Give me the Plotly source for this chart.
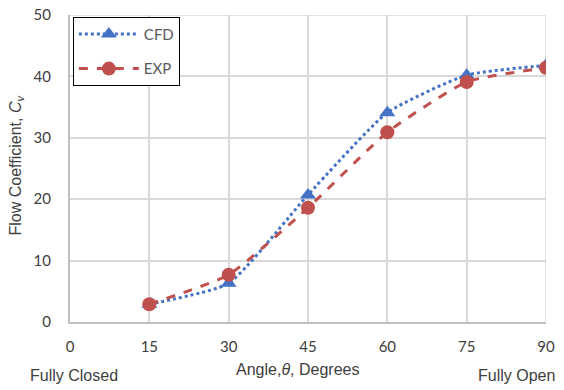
import plotly.graph_objects as go

angles = [15, 30, 45, 60, 75, 90]
cfd = [2.9, 6.3, 20.7, 34.1, 40.2, 41.8]
exp = [2.9, 7.7, 18.6, 30.9, 39.1, 41.4]
x_ticks = [0, 15, 30, 45, 60, 75, 90]
y_ticks = [0, 10, 20, 30, 40, 50]

GRAY = "#404040"
tick_font = dict(family="Lato, Liberation Sans, sans-serif", size=15, color=GRAY)
title_font = dict(family="Liberation Sans, Arial, sans-serif", size=16, color=GRAY)

fig = go.Figure()
fig.add_trace(go.Scatter(
    x=angles, y=cfd, name="CFD", mode="lines+markers", legendgroup="a",
    line=dict(color="#4472C4", width=3, dash="dot", shape="spline", smoothing=0.5),
    marker=dict(symbol="triangle-up", size=14, color="#4472C4"),
))
fig.add_trace(go.Scatter(
    x=angles, y=exp, name="EXP", mode="lines+markers", legendgroup="b",
    line=dict(color="#C0504D", width=3, dash="dash", shape="spline", smoothing=0.5),
    marker=dict(symbol="circle", size=14, color="#C0504D"),
))

axis_common = dict(showgrid=True, gridcolor="#D9D9D9", gridwidth=1.5, zeroline=False,
                   showline=True, linecolor="#BFBFBF", linewidth=2, ticks="",
                   tickfont=tick_font, automargin=False, ticklabeloverflow="allow")

fig.update_layout(
    width=556, height=382,
    margin=dict(l=62, r=18, t=7, b=68),
    paper_bgcolor="white", plot_bgcolor="white",
    showlegend=True,
    legend=dict(x=0.006, y=0.994, xanchor="left", yanchor="top",
                bgcolor="white", bordercolor="black", borderwidth=1,
                font=dict(family="Lato, Liberation Sans, sans-serif", size=15, color="#595959"),
                itemwidth=60, traceorder="grouped", tracegroupgap=12),
    xaxis=dict(range=[0, 90], tickvals=x_ticks, ticklabelstandoff=10, **axis_common),
    yaxis=dict(range=[0, 50], tickvals=y_ticks, ticklabelstandoff=14, **axis_common),
    annotations=[
        dict(text="Angle,<i>θ</i>, Degrees", x=0.477, xref="paper", y=0, yref="paper",
             yshift=-47, xanchor="center", yanchor="middle", showarrow=False, font=title_font),
        dict(text="Flow Coefficient, <i>C<sub>v</sub></i>", x=0, xref="paper", y=0.5,
             yref="paper", xshift=-54, yshift=3, xanchor="center", yanchor="middle",
             textangle=-90, showarrow=False, font=title_font),
        dict(text="Fully Closed", x=0, xref="x", y=0, yref="paper", xanchor="center",
             yanchor="middle", yshift=-53, xshift=4, showarrow=False, font=title_font),
        dict(text="Fully Open", x=90, xref="x", y=0, yref="paper", xanchor="center",
             yanchor="middle", yshift=-53, xshift=-30, showarrow=False, font=title_font),
    ],
)
fig.add_shape(type="line", xref="x", yref="paper", x0=90, x1=90, y0=0, y1=1,
              line=dict(color="#D9D9D9", width=1.5), layer="below")
fig.add_shape(type="line", xref="paper", yref="y", x0=0, x1=1, y0=50, y1=50,
              line=dict(color="#D9D9D9", width=1.5), layer="below")

fig.write_html("out.html")
